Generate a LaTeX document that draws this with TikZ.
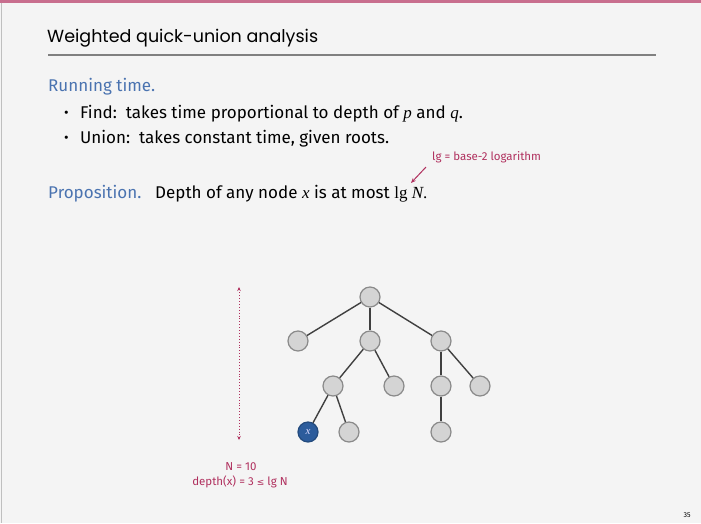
\documentclass[tikz,border=0pt]{standalone}
\usepackage{fontspec}
\setmainfont{Fira Sans}
\newfontfamily\titlefont{Poppins}
\newfontfamily\serifit{Liberation Serif}
\newfontfamily\symfont{DejaVu Sans}
\usetikzlibrary{arrows.meta}
\definecolor{bg}{HTML}{F4F4F4}
\definecolor{slideblue}{HTML}{4A73B0}
\definecolor{slidered}{HTML}{B0305E}
\definecolor{nodefill}{HTML}{D4D4D4}
\definecolor{nodedraw}{HTML}{8A8A8A}
\definecolor{xfill}{HTML}{2C5C9C}
\newcommand{\mi}[1]{{\serifit\itshape #1}}
\begin{document}
\begin{tikzpicture}[x=1pt,y=-1pt,
  tnode/.style={circle,minimum size=20pt,inner sep=0pt,fill=nodefill,draw=nodedraw,line width=1.2pt},
  xnode/.style={tnode,fill=xfill,draw=xfill!80!black,text=white!85!blue},
  edge/.style={draw=black!75,line width=1.4pt},
  body/.style={anchor=base west,inner sep=0pt,font=\fontsize{17}{20}\selectfont},
  redtxt/.style={text=slidered,inner sep=0pt,font=\fontsize{11.5}{13}\selectfont}]
\fill[bg] (0,0) rectangle (701,523);
\useasboundingbox (0,0) rectangle (701,523);
\fill[slidered!70] (0,0) rectangle (701,2.5);
\draw[black!25,line width=1pt] (1,2.5) -- (1,523);
% title
\node[anchor=base west,inner sep=0pt,font=\titlefont\fontsize{17.5}{20}\selectfont] (title) at (47,42) {Weighted quick-union analysis};
\draw[black!50,line width=1.6pt] (48,55) -- (656,55);
% running time
\node[body,text=slideblue] (rt) at (48,91.5) {Running time.};
\node[body,font=\fontsize{14}{18}\selectfont] (b1) at (64,117.5) {•};
\node[body] (f1) at (80,118) {Find:\ \ takes time proportional to depth of \mi{p} and \mi{q}.};
\node[body,font=\fontsize{14}{18}\selectfont] (b2) at (64,142.5) {•};
\node[body] (f2) at (80,143) {Union:\ \ takes constant time, given roots.};
% proposition
\node[body,text=slideblue] (prop) at (48,198) {Proposition.};
\node[body] (propt) at (155,198) {Depth of any node \mi{x} is at most \serifit lg \mi{N}.};
\node[redtxt,anchor=base west] (lgnote) at (432,160) {lg = base-2 logarithm};
\coordinate (lgtip) at (411,183);
\draw[slidered,line width=1pt,-{Stealth[length=5pt,width=4pt]}] (426,167) -- (lgtip);
% tree
\node[tnode] (r) at (370,297) {};
\node[tnode] (a) at (298,341) {};
\node[tnode] (b) at (370,341) {};
\node[tnode] (c) at (441,341) {};
\node[tnode] (d) at (333,386) {};
\node[tnode] (e) at (394,386) {};
\node[tnode] (f) at (441,386) {};
\node[tnode] (g) at (480,386) {};
\node[xnode,font=\fontsize{11}{11}\selectfont] (x) at (308,432) {\mi{x}};
\node[tnode] (h) at (349,432) {};
\node[tnode] (i) at (441,432) {};
\draw[edge] (r) -- (a);
\draw[edge] (r) -- (b);
\draw[edge] (r) -- (c);
\draw[edge] (b) -- (d);
\draw[edge] (b) -- (e);
\draw[edge] (c) -- (f);
\draw[edge] (c) -- (g);
\draw[edge] (d) -- (x);
\draw[edge] (d) -- (h);
\draw[edge] (f) -- (i);
% depth arrow
\coordinate (dtop) at (239,287);
\coordinate (dbot) at (239,440);
\draw[slidered,line width=0.9pt,dotted,{Stealth[length=4pt,width=3.5pt]}-{Stealth[length=4pt,width=3.5pt]}] (dtop) -- (dbot);
\node[redtxt,anchor=base] (nlab) at (241,470) {N = 10};
\node[redtxt,anchor=base] (dlab) at (240,485.5) {depth(x) = 3 {\symfont\fontsize{9}{10}\selectfont ≤}\ lg N};
\node[anchor=base,inner sep=0pt,font=\fontsize{7}{8}\selectfont] (pg) at (687,517) {35};
\end{tikzpicture}
\end{document}
